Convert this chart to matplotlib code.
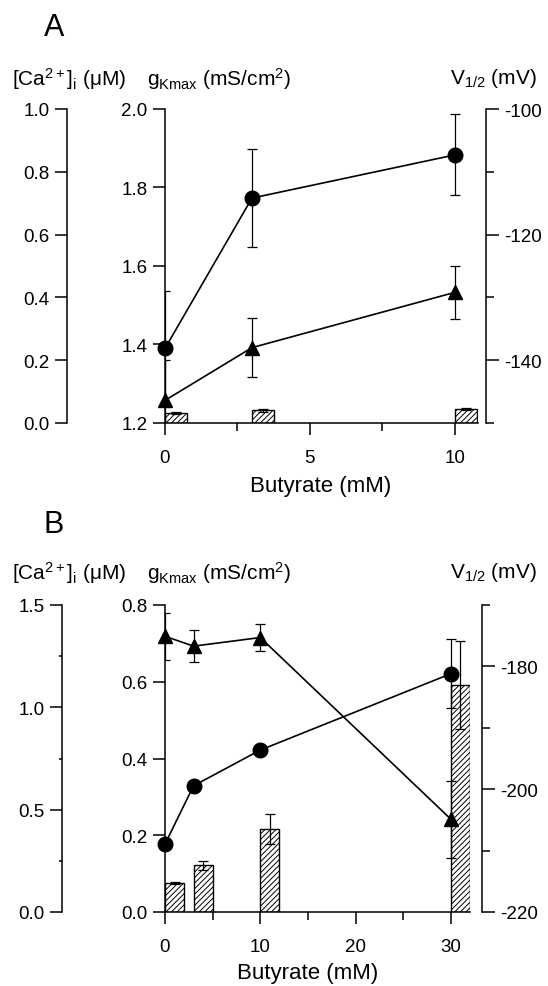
import matplotlib
matplotlib.use("Agg")
import matplotlib.pyplot as plt
from matplotlib.ticker import MultipleLocator, FormatStrFormatter

plt.rcParams['font.family'] = ['Liberation Sans', 'DejaVu Sans']
plt.rcParams['mathtext.fontset'] = 'custom'
plt.rcParams['mathtext.rm'] = 'Liberation Sans'
plt.rcParams['mathtext.it'] = 'Liberation Sans'
plt.rcParams['mathtext.default'] = 'regular'
plt.rcParams['axes.unicode_minus'] = False
plt.rcParams['hatch.linewidth'] = 0.7

# Panel A data
butyrate_a = [0, 3, 10]
gk_a = [1.39, 1.773, 1.883]
gk_a_err = [0.147, 0.125, 0.103]
vhalf_a = [-146.4, -138.0, -129.2]
vhalf_a_err = [6.4, 4.7, 4.2]
ca_a = [0.032, 0.041, 0.044]
ca_a_err = [0.004, 0.005, 0.004]

# Panel B data
butyrate_b = [0, 3, 10, 30]
gk_b = [0.177, 0.329, 0.422, 0.621]
gk_b_err = [0.0, 0.0, 0.0, 0.09]
vhalf_b = [-175.1, -176.7, -175.3, -204.9]
vhalf_b_err = [3.8, 2.6, 2.2, 6.3]
ca_b = [0.141, 0.228, 0.407, 1.108]
ca_b_err = [0.006, 0.023, 0.073, 0.215]

FS = 13.5
W, H = 548, 987


def draw_panel(fig, rect, x, gk, gk_err, vh, vh_err, ca, ca_err, bar_w,
               xlim, xmaj, xmin, gklim, gkstep, vlim, calim, castep, camin,
               ca_pos, v_pos):
    ax = fig.add_axes(rect)
    ax_ca = ax.twinx()
    ax_v = ax.twinx()

    # bars below, lines on top
    ax_ca.set_zorder(1)
    ax.set_zorder(2)
    ax_v.set_zorder(3)
    ax.patch.set_visible(False)

    ax.set_xlim(*xlim)
    ax.set_ylim(*gklim)
    ax_ca.set_ylim(*calim)
    ax_v.set_ylim(*vlim)

    # calcium bars
    ax_ca.bar(x, ca, width=bar_w, align='edge', color='white', edgecolor='k',
              hatch='//////', linewidth=1.0)
    centers = [xi + bar_w / 2 for xi in x]
    ax_ca.errorbar(centers, ca, yerr=ca_err, fmt='none', ecolor='k',
                   elinewidth=0.9, capsize=3.5, capthick=0.9)

    # gKmax circles
    eb = ax.errorbar(x, gk, yerr=gk_err, fmt='o-', color='k', ms=10.5, lw=1.2,
                     elinewidth=0.9, capsize=3.5, capthick=0.9)
    eb[0].set_clip_on(False)

    # V1/2 triangles
    eb = ax_v.errorbar(x, vh, yerr=vh_err, fmt='^-', color='k', ms=10.5, lw=1.2,
                       elinewidth=0.9, capsize=3.5, capthick=0.9)
    eb[0].set_clip_on(False)

    # spines
    for s in ['top', 'right']:
        ax.spines[s].set_visible(False)
    for s in ['top', 'right', 'bottom']:
        ax_ca.spines[s].set_visible(False)
    for s in ['top', 'left', 'bottom']:
        ax_v.spines[s].set_visible(False)
    ax_ca.spines['left'].set_position(('axes', ca_pos))
    ax_v.spines['right'].set_position(('axes', v_pos))
    for a in (ax, ax_ca, ax_v):
        for sp in a.spines.values():
            sp.set_linewidth(1.1)

    ax_ca.yaxis.tick_left()
    ax_ca.yaxis.set_label_position('left')

    ax.xaxis.set_major_locator(MultipleLocator(xmaj))
    ax.xaxis.set_minor_locator(MultipleLocator(xmin))
    ax.yaxis.set_major_locator(MultipleLocator(gkstep))
    ax.yaxis.set_major_formatter(FormatStrFormatter('%.1f'))
    ax_ca.yaxis.set_major_locator(MultipleLocator(castep))
    ax_ca.yaxis.set_major_formatter(FormatStrFormatter('%.1f'))
    if camin:
        ax_ca.yaxis.set_minor_locator(MultipleLocator(camin))
    ax_v.yaxis.set_major_locator(MultipleLocator(20))
    ax_v.yaxis.set_minor_locator(MultipleLocator(10))

    ax.tick_params(axis='x', which='major', direction='out', length=8.5,
                   width=1.1, labelsize=FS, pad=10)
    ax.tick_params(axis='x', which='minor', direction='out', length=6, width=1.1)
    ax.tick_params(axis='y', which='major', direction='out', length=8.5,
                   width=1.1, labelsize=FS, pad=4)
    ax_ca.tick_params(axis='y', which='major', direction='out', length=8.5,
                      width=1.1, labelsize=FS, pad=4)
    ax_ca.tick_params(axis='y', which='minor', direction='out', length=2.5,
                      width=1.1)
    ax_v.tick_params(axis='y', which='major', direction='out', length=9,
                     width=1.1, labelsize=FS, pad=4)
    ax_v.tick_params(axis='y', which='minor', direction='out', length=6,
                     width=1.1)
    return ax


fig = plt.figure(figsize=(W / 100, H / 100), dpi=100)

# panel A
draw_panel(fig, [165 / W, 1 - 424 / H, 313 / W, 314 / H],
           butyrate_a, gk_a, gk_a_err, vhalf_a, vhalf_a_err, ca_a, ca_a_err, 0.75,
           (0, 10.8), 5, 2.5, (1.2, 2.0), 0.2, (-150, -100), (0, 1.0), 0.2, None,
           -0.313, 1.026)

# panel B
draw_panel(fig, [165 / W, 1 - 913 / H, 305 / W, 307 / H],
           butyrate_b, gk_b, gk_b_err, vhalf_b, vhalf_b_err, ca_b, ca_b_err, 2.0,
           (0, 32), 10, 5, (0, 0.8), 0.2, (-220, -170), (0, 1.5), 0.5, 0.25,
           -0.338, 1.038)

lab = 15
for top, letter in [(28, 'A'), (525, 'B')]:
    fig.text(54 / W, 1 - top / H, letter, fontsize=22, ha='center', va='center')
for row in [79, 573]:
    y = 1 - row / H
    fig.text(12 / W, y, r'[Ca$^{2+}$]$_i$ (μM)', fontsize=lab, ha='left', va='center')
    fig.text(147 / W, y, r'g$_{Kmax}$ (mS/cm$^2$)', fontsize=lab, ha='left', va='center')
    fig.text(537 / W, y, r'V$_{1/2}$ (mV)', fontsize=lab, ha='right', va='center')

fig.text(321 / W, 1 - 487 / H, 'Butyrate (mM)', fontsize=16, ha='center', va='center')
fig.text(308 / W, 1 - 974 / H, 'Butyrate (mM)', fontsize=16, ha='center', va='center')

fig.savefig('out.png', dpi=100)
